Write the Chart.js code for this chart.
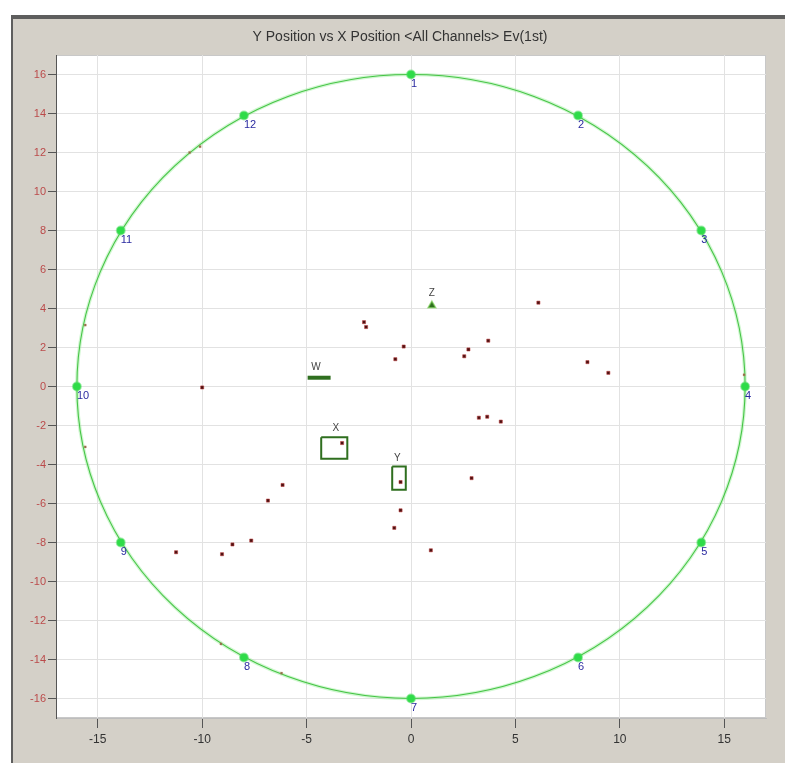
<!DOCTYPE html>
<html>
<head>
<meta charset="utf-8">
<title>Y Position vs X Position</title>
<script src="https://cdn.jsdelivr.net/npm/chart.js@4.4.1/dist/chart.umd.min.js"></script>
<style>
  html, body { margin: 0; padding: 0; background: #fff; overflow: hidden; }
  canvas { display: block; }
</style>
</head>
<body>
<canvas id="chart" width="785" height="763"></canvas>
<script>
// Source locations on the X/Y plane, sensor ring radius 16
const TITLE = 'Y Position vs X Position <All Channels> Ev(1st)';
const RING_RADIUS = 16;

const xTicks = [-15, -10, -5, 0, 5, 10, 15];
const yTicks = [16, 14, 12, 10, 8, 6, 4, 2, 0, -2, -4, -6, -8, -10, -12, -14, -16];

// sensors around the ring
const sensorNames = ['1', '2', '3', '4', '5', '6', '7', '8', '9', '10', '11', '12'];
const sensorX = [0, 8, 13.9, 16, 13.9, 8, 0, -8, -13.9, -16, -13.9, -8];
const sensorY = [16, 13.9, 8, 0, -8, -13.9, -16, -13.9, -8, 0, 8, 13.9];

// located hits
const hitX = [6.1, -2.25, -2.15, -0.35, -0.75, 2.75, 2.55, 3.7, 8.45, 9.45, -10.0,
  3.25, 3.65, 4.3, -3.3, -0.5, 2.9, -6.15, -6.85, -7.65, -8.55, -9.05, -11.25,
  -0.8, -0.5, 0.95];
const hitY = [4.3, 3.3, 3.05, 2.05, 1.4, 1.9, 1.55, 2.35, 1.25, 0.7, -0.05,
  -1.6, -1.55, -1.8, -2.9, -4.9, -4.7, -5.05, -5.85, -7.9, -8.1, -8.6, -8.5,
  -7.25, -6.35, -8.4];

// faint hits sitting on the ring
const edgeX = [-10.6, -10.1, -15.6, 15.95, -15.6, -9.1, -6.2];
const edgeY = [12.0, 12.3, 3.15, 0.6, -3.1, -13.2, -14.7];

// reference stations
const stationNames = ['Z', 'W', 'X', 'Y'];
const stationLabelX = [1.0, -4.55, -3.6, -0.65];
const stationLabelY = [4.8, 1.0, -2.15, -3.7];

const zX = [1.0];
const zY = [4.15];
const wX = [-4.95, -3.85];
const wY = [0.45, 0.45];
const boxXx = [-4.3, -3.05, -3.05, -4.3, -4.3];
const boxXy = [-2.6, -2.6, -3.7, -3.7, -2.6];
const boxYx = [-0.9, -0.25, -0.25, -0.9, -0.9];
const boxYy = [-4.1, -4.1, -5.3, -5.3, -4.1];

const FONT = "'Liberation Sans Narrow', 'Liberation Sans', Arial, sans-serif";

function pts(xs, ys) {
  return xs.map((x, i) => ({ x: x, y: ys[i] }));
}

// grey window panel, caption and white plot area
const panelPlugin = {
  id: 'panel',
  beforeDraw(chart) {
    const ctx = chart.ctx;
    const a = chart.chartArea;
    ctx.save();
    ctx.fillStyle = '#ffffff';
    ctx.fillRect(0, 0, chart.width, chart.height);
    ctx.fillStyle = '#d4d0c8';
    ctx.fillRect(12, 16, chart.width - 12, chart.height - 16);
    ctx.fillStyle = '#5e5e5e';
    ctx.fillRect(12, 15, chart.width - 12, 4);
    ctx.fillRect(11, 15, 2, chart.height - 15);
    ctx.fillStyle = '#ffffff';
    ctx.fillRect(a.left, a.top, a.right - a.left, a.bottom - a.top);
    ctx.strokeStyle = '#c8c8c8';
    ctx.lineWidth = 1;
    ctx.strokeRect(a.left + 0.5, a.top + 0.5, a.right - a.left - 1, a.bottom - a.top - 1);

    ctx.fillStyle = '#333';
    ctx.font = '14px ' + FONT;
    ctx.textAlign = 'center';
    ctx.textBaseline = 'middle';
    ctx.fillText(TITLE, 400, 37);
    ctx.restore();
  }
};

// sensor ring
const ringPlugin = {
  id: 'ring',
  beforeDatasetsDraw(chart) {
    const ctx = chart.ctx;
    const xs = chart.scales.x, ys = chart.scales.y;
    const cx = xs.getPixelForValue(0), cy = ys.getPixelForValue(0);
    const rx = xs.getPixelForValue(RING_RADIUS) - cx;
    const ry = cy - ys.getPixelForValue(RING_RADIUS);
    ctx.save();
    ctx.beginPath();
    ctx.ellipse(cx, cy, rx, ry, 0, 0, Math.PI * 2);
    ctx.strokeStyle = 'rgba(140, 235, 140, 0.4)';
    ctx.lineWidth = 3.5;
    ctx.stroke();
    ctx.strokeStyle = '#46c446';
    ctx.lineWidth = 1.1;
    ctx.stroke();
    ctx.restore();
  }
};

// sensor numbers and station names
const labelPlugin = {
  id: 'markLabels',
  afterDatasetsDraw(chart) {
    const ctx = chart.ctx;
    const xs = chart.scales.x, ys = chart.scales.y;
    ctx.save();
    ctx.font = '11px ' + FONT;
    ctx.fillStyle = '#2a2aa0';
    ctx.textAlign = 'left';
    ctx.textBaseline = 'top';
    sensorNames.forEach((name, i) => {
      const px = xs.getPixelForValue(sensorX[i]);
      const py = ys.getPixelForValue(sensorY[i]);
      ctx.fillText(name, px, py + 4);
    });
    ctx.fillStyle = '#444';
    ctx.textAlign = 'center';
    ctx.textBaseline = 'middle';
    ctx.font = '10px ' + FONT;
    stationNames.forEach((name, i) => {
      ctx.fillText(name, xs.getPixelForValue(stationLabelX[i]), ys.getPixelForValue(stationLabelY[i]));
    });
    ctx.restore();
  }
};

const STATION_GREEN = '#2f6f1f';

new Chart(document.getElementById('chart'), {
  type: 'scatter',
  data: {
    datasets: [
      {
        label: 'Hits',
        data: pts(hitX, hitY),
        pointStyle: 'rect',
        pointRadius: 2.2,
        backgroundColor: '#4a1212',
        borderColor: 'rgba(190, 60, 60, 0.55)',
        borderWidth: 1
      },
      {
        label: 'Ring hits',
        data: pts(edgeX, edgeY),
        pointStyle: 'rect',
        pointRadius: 1.5,
        backgroundColor: '#8a6a4a',
        borderColor: 'rgba(200, 140, 100, 0.3)',
        borderWidth: 1
      },
      {
        label: 'Sensors',
        data: pts(sensorX, sensorY),
        pointRadius: 4,
        backgroundColor: '#2edc48',
        borderColor: 'rgba(70, 220, 90, 0.5)',
        borderWidth: 2
      },
      {
        label: 'Z',
        data: pts(zX, zY),
        pointStyle: 'triangle',
        pointRadius: 4.5,
        backgroundColor: STATION_GREEN,
        borderColor: 'rgba(120, 210, 80, 0.6)',
        borderWidth: 1.5
      },
      {
        label: 'W',
        data: pts(wX, wY),
        showLine: true,
        pointRadius: 0,
        borderColor: STATION_GREEN,
        borderWidth: 4
      },
      {
        label: 'X',
        data: pts(boxXx, boxXy),
        showLine: true,
        pointRadius: 0,
        borderColor: STATION_GREEN,
        borderWidth: 2
      },
      {
        label: 'Y',
        data: pts(boxYx, boxYy),
        showLine: true,
        pointRadius: 0,
        borderColor: STATION_GREEN,
        borderWidth: 2
      }
    ]
  },
  options: {
    responsive: false,
    animation: false,
    layout: { padding: { left: 0, right: 19, top: 55, bottom: 0 } },
    plugins: {
      legend: { display: false },
      tooltip: { enabled: false },
      title: { display: false }
    },
    scales: {
      x: {
        type: 'linear',
        min: -17,
        max: 17,
        afterBuildTicks: s => { s.ticks = xTicks.map(v => ({ value: v })); },
        afterFit: s => { s.height = 45; },
        grid: { color: '#e2e2e2', tickColor: '#555', tickLength: 10 },
        border: { color: '#bdbdbd' },
        ticks: { color: '#333', font: { family: FONT, size: 12 }, padding: 4 }
      },
      y: {
        type: 'linear',
        min: -17,
        max: 17,
        afterBuildTicks: s => { s.ticks = yTicks.map(v => ({ value: v })); },
        afterFit: s => { s.width = 56; },
        grid: { color: '#e2e2e2', tickColor: '#555', tickLength: 8 },
        border: { color: '#555' },
        ticks: { color: '#bb4a4a', font: { family: FONT, size: 11 }, padding: 2 }
      }
    }
  },
  plugins: [panelPlugin, ringPlugin, labelPlugin]
});
</script>
</body>
</html>
